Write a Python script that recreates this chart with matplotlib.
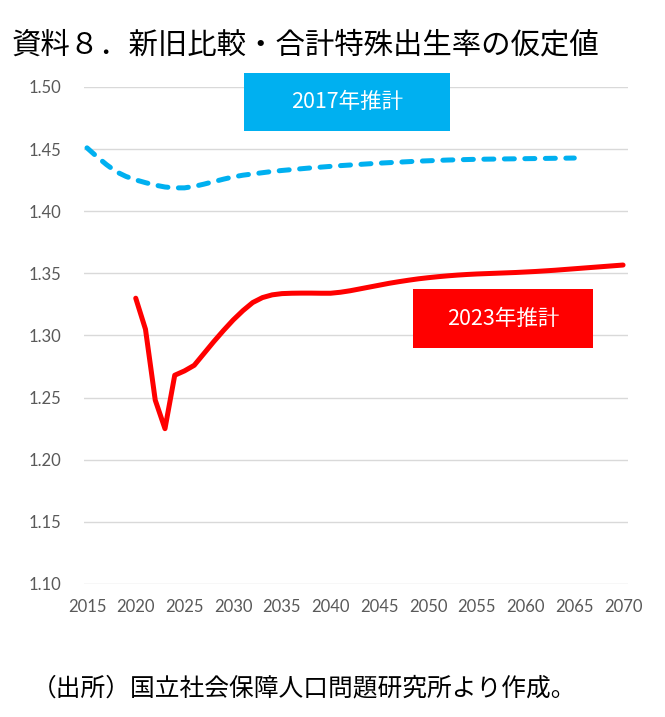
import matplotlib
matplotlib.use('Agg')
import matplotlib.pyplot as plt
from matplotlib.patches import Rectangle

plt.rcParams['font.family'] = ['Noto Sans CJK JP', 'DejaVu Sans']

# 2017年推計 (2015-2065)
years_2017 = list(range(2015, 2066))
tfr_2017 = [1.4510, 1.4440, 1.4375, 1.4318, 1.4280, 1.4252, 1.4230, 1.4210, 1.4195, 1.4188,
            1.4188, 1.4200, 1.4218, 1.4238, 1.4258, 1.4276, 1.4290, 1.4300, 1.4310, 1.4320,
            1.4328, 1.4335, 1.4342, 1.4349, 1.4355, 1.4361, 1.4367, 1.4372, 1.4377, 1.4382,
            1.4387, 1.4391, 1.4395, 1.4399, 1.4403, 1.4406, 1.4409, 1.4412, 1.4414, 1.4416,
            1.4418, 1.4419, 1.4420, 1.4421, 1.4422, 1.4423, 1.4424, 1.4425, 1.4426, 1.4427,
            1.4428]

# 2023年推計 (2020-2070)
years_2023 = list(range(2020, 2071))
tfr_2023 = [1.3300, 1.3050, 1.2480, 1.2250, 1.2680, 1.2715, 1.2760, 1.2855, 1.2950, 1.3040,
            1.3125, 1.3200, 1.3265, 1.3305, 1.3327, 1.3337, 1.3340, 1.3341, 1.3341, 1.3340,
            1.3340, 1.3348, 1.3360, 1.3375, 1.3390, 1.3405, 1.3420, 1.3433, 1.3445, 1.3456,
            1.3465, 1.3473, 1.3480, 1.3486, 1.3491, 1.3495, 1.3498, 1.3501, 1.3504, 1.3507,
            1.3511, 1.3515, 1.3520, 1.3525, 1.3531, 1.3537, 1.3543, 1.3549, 1.3555, 1.3561,
            1.3567]

x_ticks = list(range(2015, 2071, 5))
y_ticks = [1.10, 1.15, 1.20, 1.25, 1.30, 1.35, 1.40, 1.45, 1.50]

title = '資料８．新旧比較・合計特殊出生率の仮定値'
source = '（出所）国立社会保障人口問題研究所より作成。'
label_2017 = '2017年推計'
label_2023 = '2023年推計'

blue = '#00B0F0'
red = '#FF0000'
gray = '#595959'

fig = plt.figure(figsize=(6.65, 7.17), dpi=100)
ax = fig.add_axes([0.1263, 0.1855, 0.8181, 0.6932])

ax.plot(years_2017, tfr_2017, color=blue, lw=3.6, linestyle=(0, (2.0, 2.1)),
        dash_capstyle='round', solid_capstyle='round')
ax.plot(years_2023, tfr_2023, color=red, lw=3.6, solid_capstyle='round',
        solid_joinstyle='round')

ax.set_xlim(2014.69, 2070.51)
ax.set_ylim(1.10, 1.50)
ax.set_xticks(x_ticks)
ax.set_yticks(y_ticks)
ax.set_yticklabels(['%.2f' % v for v in y_ticks])
ax.grid(axis='y', color='#d9d9d9', lw=1.0)
ax.set_axisbelow(True)
for s in ax.spines.values():
    s.set_visible(False)
ax.tick_params(axis='both', length=0, colors=gray, labelsize=12)
ax.tick_params(axis='y', pad=16)
ax.tick_params(axis='x', pad=11)
for lab in ax.get_xticklabels() + ax.get_yticklabels():
    lab.set_family(['Lato', 'DejaVu Sans'])

# label boxes
fig.patches.append(Rectangle((0.3669, 0.8173), 0.3098, 0.0809, transform=fig.transFigure,
                             facecolor=blue, edgecolor='none', zorder=5))
fig.text(0.5218, 0.8577, label_2017, color='white', fontsize=15.5,
         ha='center', va='center', zorder=6)
fig.patches.append(Rectangle((0.6211, 0.5146), 0.2707, 0.0823, transform=fig.transFigure,
                             facecolor=red, edgecolor='none', zorder=5))
fig.text(0.7564, 0.5558, label_2023, color='white', fontsize=15.5,
         ha='center', va='center', zorder=6)

fig.text(0.018, 0.937, title, fontsize=21.2, ha='left', va='center', color='black')
fig.text(0.048, 0.040, source, fontsize=17.8, ha='left', va='center', color='black')

fig.savefig('out.png', dpi=100, facecolor='white')
